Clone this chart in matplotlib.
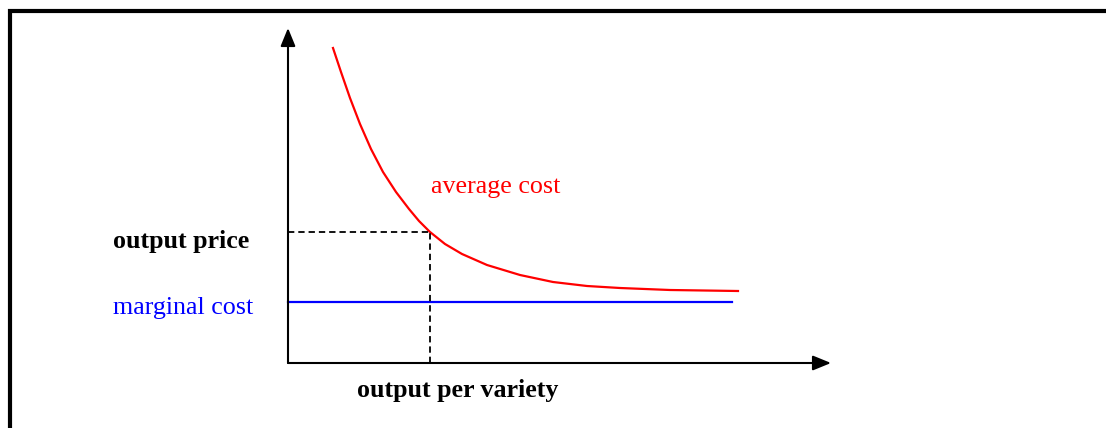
import matplotlib
matplotlib.use("Agg")
import matplotlib.pyplot as plt
from matplotlib.lines import Line2D

# average cost curve (output, cost)
ac_q = [45, 53, 62, 72, 83, 95, 108, 121, 131, 142, 157, 174, 199, 232, 265, 299, 332, 382, 450]
ac_c = [315, 291, 265, 239, 214, 191, 171, 154, 142, 131, 119, 109, 98, 88, 81, 77, 75, 73, 72]

mc_level = 61          # marginal cost (flat)
mc_q = [0, 444]
q_star = 142           # output per variety at the equilibrium
p_star = 131           # output price

labels = ["average cost", "output price", "marginal cost", "output per variety"]

W, H = 1106, 428
fig = plt.figure(figsize=(W / 100, H / 100), dpi=100)
plt.rcParams['font.family'] = ['Liberation Serif', 'DejaVu Serif']

# outer frame (only top and left edges visible)
fx = 10 / W
fy = 1 - 11 / H
fig.add_artist(Line2D([fx, fx, 1.0], [0.0, fy, fy], color="black", lw=3.0,
                      transform=fig.transFigure, solid_joinstyle="miter"))

# axes placed so the origin sits where the reference has it
x0, y0, x1, y1 = 288, 363, 831, 28
ax = fig.add_axes([x0 / W, 1 - y0 / H, (x1 - x0) / W, (y0 - y1) / H])
ax.set_xlim(0, x1 - x0)
ax.set_ylim(0, y0 - y1)
ax.axis("off")

arrow = dict(arrowstyle="-|>,head_length=1.1,head_width=0.45", color="black", lw=1.5,
             shrinkA=0, shrinkB=0)
ax.annotate("", xy=(x1 - x0, 0), xytext=(0, 0), arrowprops=arrow, annotation_clip=False)
ax.annotate("", xy=(0, y0 - y1), xytext=(0, 0), arrowprops=arrow, annotation_clip=False)

ax.plot(ac_q, ac_c, color="red", lw=1.6, clip_on=False, solid_joinstyle="round")
ax.plot(mc_q, [mc_level, mc_level], color="blue", lw=1.6, clip_on=False)

ax.plot([0, q_star], [p_star, p_star], color="black", lw=1.3, dashes=(3.5, 2.2))
ax.plot([q_star, q_star], [0, p_star], color="black", lw=1.3, dashes=(3.5, 2.2))

fs = 18.7
ax.text(143, 170, labels[0], color="red", fontsize=fs, va="baseline", ha="left")
ax.text(-175, 114.7, labels[1], color="black", fontsize=fs, fontweight="bold",
        va="baseline", ha="left")
ax.text(-175, 48.7, labels[2], color="blue", fontsize=fs, va="baseline", ha="left")
ax.text(69, -33.7, labels[3], color="black", fontsize=fs, fontweight="bold",
        va="baseline", ha="left")

fig.savefig("out.png", dpi=100)
